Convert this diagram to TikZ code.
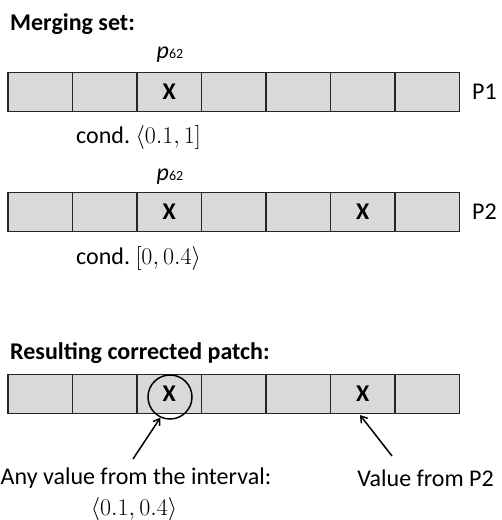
\RequirePackage{fix-cm}
\documentclass[tikz,border=0pt]{standalone}
\usepackage{fontspec}
\setmainfont{Carlito}
\usetikzlibrary{arrows.meta}
\newcommand{\pindex}{{\itshape p}{\fontsize{14}{16}\selectfont 62}}
\begin{document}
\begin{tikzpicture}[x=1pt,y=-1pt,
  cell/.style={draw=black!85, fill=black!15, line width=1.1pt,
    minimum width=64.5pt, minimum height=38.5pt, inner sep=0pt},
  xsign/.style={inner sep=0pt, font=\fontsize{24}{26}\selectfont\bfseries},
  title/.style={anchor=west, inner sep=0pt, font=\fontsize{24}{28}\selectfont\bfseries},
  lbl/.style={inner sep=0pt, font=\fontsize{24}{27}\selectfont},
  pin/.style={inner sep=0pt, font=\fontsize{24}{26}\selectfont},
  ptr/.style={line width=1.5pt, -{Straight Barb[length=6pt,width=8pt]}}]
\useasboundingbox (0,0) rectangle (502,520);

% section titles
\node[title] (t1) at (10,24) {Merging set:};
\node[title] (t3) at (10,353) {Resulting corrected patch:};

% the three patches, seven cells each
\foreach \r/\y in {a/92, b/212, c/394}{
  \foreach \i in {1,...,7}{
    \node[cell] (\r\i) at ({8+32.25+64.5*(\i-1)},\y) {};
  }
}

% marked entries
\node[xsign] (xa3) at (a3) {X};
\node[xsign] (xb3) at (b3) {X};
\node[xsign] (xb6) at (b6) {X};
\node[xsign] (xc3) at (c3) {X};
\node[xsign] (xc6) at (c6) {X};

% patch names
\node[lbl, anchor=west] (p1) at (472,92) {P1};
\node[lbl, anchor=west] (p2) at (472,212) {P2};

% pixel index above the third cell
\node[pin] (ia) at (170,55) {\pindex};
\node[pin] (ib) at (170,177) {\pindex};

% conditions below the first two patches
\node[lbl, anchor=west] (ca) at (76,137) {cond.\ $\langle 0.1, 1]$};
\node[lbl, anchor=west] (cb) at (76,258) {cond.\ $[0, 0.4\rangle$};

% highlighted entry in the result
\node[draw=black, line width=1.5pt, circle, minimum size=44pt, inner sep=0pt] (ring) at (170,397) {};

% explanations
\node[lbl, anchor=west] (any) at (0.5,478) {Any value from the interval:};
\node[lbl] (iv) at (134,509) {$\langle 0.1, 0.4\rangle$};
\node[lbl, anchor=east] (vp) at (494,478) {Value from P2};

\coordinate (sa) at (133,459);
\coordinate (sb) at (392,456);
\draw[ptr] (sa) -- (ring.-115);
\draw[ptr] (sb) -- (360,415);
\end{tikzpicture}
\end{document}
